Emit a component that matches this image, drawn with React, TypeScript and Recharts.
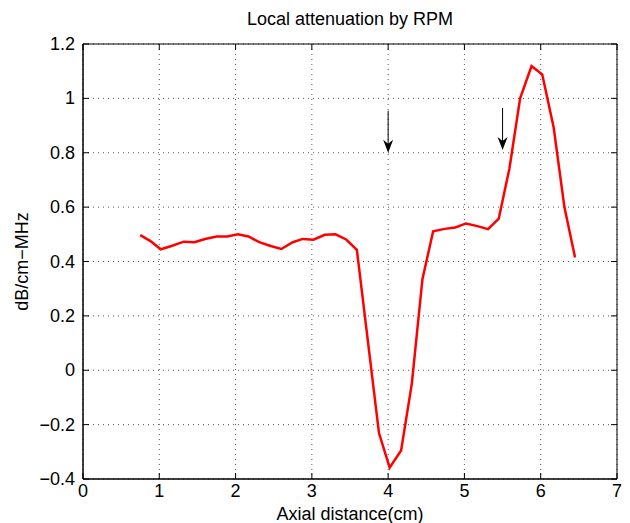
import React from "react";
import {
  LineChart,
  Line,
  XAxis,
  YAxis,
  CartesianGrid,
  ReferenceDot,
  ReferenceArea,
} from "recharts";

const axialCm = [
  0.75, 0.88, 1.02, 1.16, 1.32, 1.46, 1.6, 1.75, 1.89, 2.03, 2.17, 2.31, 2.46,
  2.6, 2.75, 2.88, 3.02, 3.17, 3.31, 3.45, 3.59, 3.88, 4.02, 4.17, 4.31, 4.45,
  4.59, 4.74, 4.88, 5.02, 5.17, 5.31, 5.45, 5.59, 5.73, 5.88, 6.02, 6.17, 6.31,
  6.45,
];
const attenuation = [
  0.497, 0.476, 0.445, 0.457, 0.473, 0.471, 0.483, 0.492, 0.492, 0.5, 0.492,
  0.471, 0.457, 0.446, 0.471, 0.483, 0.48, 0.498, 0.5, 0.481, 0.443, -0.231,
  -0.358, -0.295, -0.05, 0.336, 0.511, 0.52, 0.525, 0.54, 0.53, 0.519, 0.558,
  0.742, 1.0, 1.119, 1.088, 0.893, 0.601, 0.415,
];
const xTicks = [0, 1, 2, 3, 4, 5, 6, 7];
const yTicks = [-0.4, -0.2, 0, 0.2, 0.4, 0.6, 0.8, 1, 1.2];
const arrowTips = [
  { x: 4.0, y: 0.8 },
  { x: 5.5, y: 0.81 },
];

const data = axialCm.map((x, i) => ({ x, v: attenuation[i] }));

const font = "'Liberation Sans', Arial, Helvetica, sans-serif";
const fs = 18;
const fmt = (v: number) => {
  const r = Math.round(v * 10) / 10;
  return r < 0 ? "\u2212" + String(-r) : String(r);
};

const LeftTick = ({ x, y, payload }: any) => (
  <g>
    <line x1={x + 8} x2={x + 14} y1={y} y2={y} stroke="#000" />
    <text x={x} y={y} dy={6} textAnchor="end" fontSize={fs} fontFamily={font} fill="#000">
      {fmt(payload.value)}
    </text>
  </g>
);

const BottomTick = ({ x, y, payload }: any) => (
  <g>
    <line x1={x} x2={x} y1={y - 4} y2={y - 10} stroke="#000" />
    <text x={x} y={y} dy={14} textAnchor="middle" fontSize={fs} fontFamily={font} fill="#000">
      {payload.value}
    </text>
  </g>
);

// small inward tick marks on the top and right edges of the box
const TopMark = ({ cx, cy }: any) => (
  <line x1={cx} x2={cx} y1={cy} y2={cy + 6} stroke="#000" />
);
const RightMark = ({ cx, cy }: any) => (
  <line x1={cx} x2={cx - 6} y1={cy} y2={cy} stroke="#000" />
);

const Arrow = ({ cx, cy }: any) => (
  <g>
    <line x1={cx} x2={cx} y1={cy - 42} y2={cy - 8} stroke="#000" strokeWidth={1} />
    <path d={`M${cx},${cy} L${cx - 5},${cy - 13} L${cx},${cy - 9} L${cx + 5},${cy - 13} Z`} fill="#000" />
  </g>
);

export default function App() {
  return (
    <div style={{ position: "absolute", left: 0, top: 0, width: 630, height: 523, background: "#fff" }}>
      <div
        style={{
          position: "absolute",
          top: 9,
          left: 83,
          width: 534,
          textAlign: "center",
          fontFamily: font,
          fontSize: fs,
          color: "#000",
        }}
      >
        Local attenuation by RPM
      </div>
      <LineChart
        width={630}
        height={523}
        data={data}
        margin={{ top: 44, right: 13, left: 0, bottom: 0 }}
      >
        <CartesianGrid stroke="#555" strokeDasharray="1 4" />
        <XAxis
          dataKey="x"
          type="number"
          domain={[0, 7]}
          ticks={xTicks}
          height={44}
          tickSize={0}
          tickMargin={4}
          tickLine={false}
          axisLine={{ stroke: "#000" }}
          tick={<BottomTick />}
          interval={0}
          label={{
            value: "Axial distance(cm)",
            position: "insideBottom",
            offset: 3,
            style: { fontFamily: font, fontSize: fs, fill: "#000" },
          }}
        />
        <YAxis
          type="number"
          domain={[-0.4, 1.2]}
          ticks={yTicks}
          width={83}
          tickSize={0}
          tickMargin={8}
          tickLine={false}
          axisLine={{ stroke: "#000" }}
          tick={<LeftTick />}
          interval={0}
          label={{
            value: "dB/cm\u2212MHz",
            angle: -90,
            position: "insideLeft",
            offset: 22,
            style: { fontFamily: font, fontSize: fs, fill: "#000", textAnchor: "middle" },
          }}
        />
        <ReferenceArea
          x1={0}
          x2={7}
          y1={-0.4}
          y2={1.2}
          fill="none"
          fillOpacity={0}
          stroke="#000"
          strokeOpacity={1}
        />
        {xTicks.map((t) => (
          <ReferenceDot key={"t" + t} x={t} y={1.2} r={1} shape={<TopMark />} />
        ))}
        {yTicks.map((t) => (
          <ReferenceDot key={"r" + t} x={7} y={t} r={1} shape={<RightMark />} />
        ))}
        <Line
          dataKey="v"
          type="linear"
          stroke="#ff0000"
          strokeWidth={2.5}
          dot={false}
          isAnimationActive={false}
        />
        {arrowTips.map((a, i) => (
          <ReferenceDot key={i} x={a.x} y={a.y} r={1} shape={<Arrow />} />
        ))}
      </LineChart>
    </div>
  );
}
